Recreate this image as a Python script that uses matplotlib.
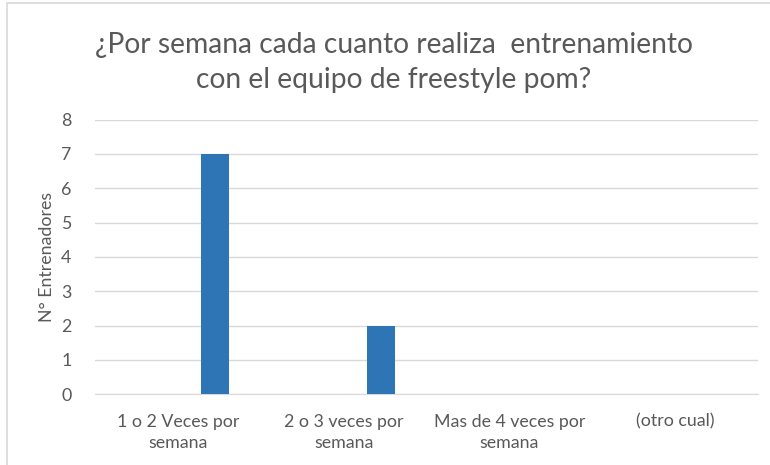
import numpy as np
import matplotlib.pyplot as plt
from matplotlib.patches import Rectangle

# data
categorias = ['1 o 2 Veces por\nsemana', '2 o 3 veces por\nsemana',
              'Mas de 4 veces por\nsemana', '(otro cual)']
entrenadores = [7, 2, 0, 0]

plt.rcParams['font.family'] = ['Lato', 'DejaVu Sans']

fig = plt.figure(figsize=(7.7, 4.65), dpi=100)
ax = fig.add_axes([0.1234, 0.152, 0.861, 0.591])

# chart border (light grey frame like the Excel chart area)
fig.patches.append(Rectangle((7 / 770, -0.01), 1.0, 1 - 3 / 465 + 0.01,
                             transform=fig.transFigure, fill=False,
                             edgecolor='#d9d9d9', linewidth=1.2))

x = np.arange(len(categorias))
ax.bar(x + 0.224, entrenadores, width=0.171, color='#2e75b6', zorder=3)

ax.set_xlim(-0.5, 3.5)
ax.set_ylim(0, 8)
ax.set_yticks(range(0, 9))
ax.set_xticks(x)
ax.set_xticklabels(categorias, fontsize=12.8, color='#595959', linespacing=1.4)
ax.tick_params(axis='y', labelsize=12.8, labelcolor='#595959', length=0, pad=17)
ax.tick_params(axis='x', length=0, pad=14)
ax.grid(axis='y', color='#d9d9d9', linewidth=1, zorder=0)
for s in ['top', 'right', 'left']:
    ax.spines[s].set_visible(False)
ax.spines['bottom'].set_color('#d9d9d9')

ax.set_ylabel('N° Entrenadores', fontsize=12.8, color='#595959', labelpad=4)

fig.text(0.511, 0.866, '¿Por semana cada cuanto realiza  entrenamiento\ncon el equipo de freestyle pom?',
         ha='center', va='center', fontsize=20.3, color='#595959', linespacing=1.4)

fig.savefig('out.png', dpi=100)
